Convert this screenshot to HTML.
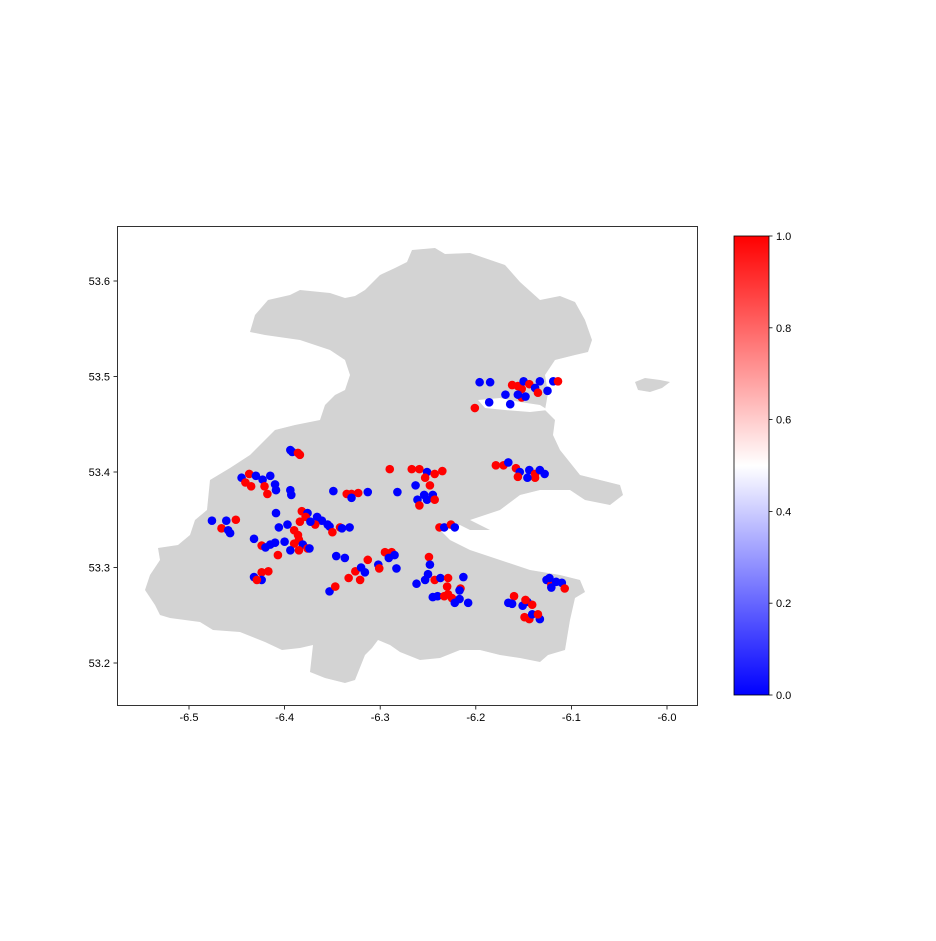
<!DOCTYPE html>
<html><head><meta charset="utf-8"><style>
body{margin:0;background:#fff;}
svg text{font-family:"Liberation Sans","DejaVu Sans",sans-serif;font-size:11px;fill:#000;}
</style></head><body>
<svg id="chart" width="936" height="936" viewBox="0 0 936 936" xmlns="http://www.w3.org/2000/svg">
<defs><linearGradient id="bwr" x1="0" y1="1" x2="0" y2="0">
<stop offset="0" stop-color="#0000ff"/><stop offset="0.5" stop-color="#ffffff"/><stop offset="1" stop-color="#ff0000"/></linearGradient></defs>
<rect x="0" y="0" width="936" height="936" fill="#fff"/>
<g>
<path fill="#d3d3d3" d="M407,262 L412,250 L435,248 L445,254 L470,253 L505,265 L520,282 L540,300 L560,296 L575,302 L585,320 L592,340 L588,352 L575,355 L555,360 L545,375 L548,393 L545,410 L555,420 L553,435 L560,450 L572,465 L580,475 L600,480 L620,485 L623,495 L610,505 L585,500 L570,490 L540,490 L520,495 L500,510 L485,515 L470,520 L490,530 L470,530 L460,525 L440,530 L450,540 L470,550 L500,560 L530,570 L560,575 L580,580 L585,592 L575,598 L570,620 L565,650 L548,655 L540,662 L520,658 L500,655 L480,650 L460,650 L440,658 L420,660 L400,652 L390,645 L378,640 L372,648 L365,655 L355,680 L345,683 L325,678 L310,672 L313,645 L300,648 L282,650 L265,642 L240,632 L213,630 L200,622 L170,618 L160,615 L155,605 L145,590 L150,575 L160,560 L158,548 L178,545 L190,535 L195,520 L207,510 L210,480 L230,468 L250,455 L262,443 L275,430 L295,425 L320,420 L325,405 L335,395 L345,390 L350,375 L345,360 L330,350 L300,340 L265,335 L250,332 L255,315 L268,300 L290,295 L300,290 L330,293 L345,298 L355,296 L365,290 L380,275 L395,268 Z"/>
<path fill="#d3d3d3" d="M635,382 L645,378 L660,380 L670,382 L662,388 L650,392 L638,390 Z"/>
<path fill="#fff" d="M478,400 L500,398 L520,402 L540,405 L548,410 L530,412 L505,410 L485,408 Z"/>
</g>
<rect x="117.5" y="226.5" width="580" height="479" fill="none" stroke="#000" stroke-width="0.8"/>
<g id="xticks"></g>
<g id="yticks"></g>
<g id="points"></g>
<g>
<rect x="734" y="236" width="35" height="459" fill="url(#bwr)" stroke="#000" stroke-width="0.8"/>
<g id="cbticks"></g>
</g>
</svg>
<script>
const xTicks=[-6.5,-6.4,-6.3,-6.2,-6.1,-6.0];
const yTicks=[53.2,53.3,53.4,53.5,53.6];
const cbTicks=[0.0,0.2,0.4,0.6,0.8,1.0];
const lons=[-6.196,-6.185,-6.169,-6.186,-6.164,-6.201,-6.162,-6.156,-6.152,-6.150,-6.144,-6.138,-6.133,-6.135,-6.152,-6.148,-6.125,-6.119,-6.114,-6.156,
-6.179,-6.171,-6.166,-6.158,-6.154,-6.144,-6.138,-6.133,-6.128,-6.138,-6.156,-6.146,
-6.290,-6.267,-6.259,-6.251,-6.243,-6.235,-6.263,-6.253,-6.248,-6.245,-6.251,-6.261,-6.259,-6.243,-6.254,
-6.238,-6.233,-6.226,-6.222,
-6.349,-6.335,-6.330,-6.323,-6.313,-6.330,-6.282,
-6.445,-6.437,-6.430,-6.423,-6.415,-6.410,-6.435,-6.441,-6.421,-6.418,-6.409,-6.394,-6.393,-6.394,-6.392,-6.386,-6.384,
-6.476,-6.466,-6.459,-6.461,-6.451,-6.457,
-6.409,-6.382,-6.376,-6.378,-6.384,-6.397,-6.406,-6.390,-6.386,-6.366,-6.361,-6.355,-6.353,-6.342,-6.340,-6.332,-6.350,-6.368,-6.373,
-6.432,-6.424,-6.415,-6.410,-6.420,-6.400,-6.390,-6.385,-6.381,-6.394,-6.407,-6.385,-6.376,-6.374,
-6.432,-6.424,-6.417,-6.424,-6.429,
-6.346,-6.337,-6.353,-6.347,-6.333,-6.326,-6.320,-6.313,-6.321,-6.316,-6.302,-6.295,-6.288,-6.285,-6.283,-6.291,-6.301,
-6.249,-6.248,-6.250,-6.253,-6.262,-6.243,-6.237,-6.229,-6.230,-6.213,-6.245,-6.240,-6.233,-6.225,-6.229,-6.222,-6.217,-6.208,-6.216,-6.217,
-6.166,-6.160,-6.162,-6.151,-6.146,-6.141,-6.148,-6.149,-6.144,-6.141,-6.133,-6.135,-6.126,-6.121,-6.123,-6.116,-6.110,-6.107,-6.121];
const lats=[53.494,53.494,53.481,53.473,53.471,53.467,53.491,53.490,53.487,53.495,53.492,53.488,53.495,53.483,53.478,53.479,53.485,53.495,53.495,53.481,
53.407,53.407,53.410,53.404,53.400,53.402,53.398,53.402,53.398,53.394,53.395,53.394,
53.403,53.403,53.403,53.400,53.398,53.401,53.386,53.394,53.386,53.376,53.371,53.371,53.365,53.371,53.376,
53.342,53.342,53.345,53.342,
53.380,53.377,53.377,53.378,53.379,53.373,53.379,
53.394,53.398,53.396,53.392,53.396,53.387,53.385,53.389,53.385,53.377,53.381,53.381,53.376,53.423,53.421,53.420,53.418,
53.349,53.341,53.339,53.349,53.350,53.336,
53.357,53.359,53.357,53.353,53.348,53.345,53.342,53.339,53.334,53.353,53.349,53.345,53.343,53.342,53.341,53.342,53.337,53.345,53.348,
53.330,53.323,53.324,53.326,53.321,53.327,53.325,53.329,53.324,53.318,53.313,53.318,53.320,53.320,
53.290,53.295,53.296,53.287,53.287,
53.312,53.310,53.275,53.280,53.289,53.296,53.300,53.308,53.287,53.295,53.303,53.316,53.316,53.313,53.299,53.310,53.299,
53.311,53.303,53.293,53.287,53.283,53.287,53.289,53.289,53.280,53.290,53.269,53.270,53.270,53.268,53.272,53.263,53.267,53.263,53.278,53.276,
53.263,53.270,53.262,53.260,53.264,53.261,53.266,53.248,53.246,53.251,53.246,53.251,53.287,53.282,53.289,53.285,53.284,53.278,53.279];
const vals=[0,0,0,0,0,1,1,1,1,0,1,0,0,1,1,0,0,0,1,0,
1,1,0,1,0,0,1,0,0,1,1,0,
1,1,1,0,1,1,0,1,1,0,0,0,1,1,0,
1,0,1,0,
0,1,1,1,0,0,0,
0,1,0,0,0,0,1,1,1,1,0,0,0,0,0,1,1,
0,1,0,0,1,0,
0,1,0,1,1,0,0,1,1,0,0,0,0,1,0,0,1,1,0,
0,1,0,0,0,0,1,1,0,0,1,1,1,0,
0,1,1,0,1,
0,0,0,1,1,1,0,1,1,0,0,1,1,0,0,0,1,
1,0,0,0,0,1,0,1,1,0,0,0,1,1,1,0,0,0,1,0,
0,1,0,0,0,1,1,1,1,0,0,1,0,1,0,0,0,1,0];
const NS='http://www.w3.org/2000/svg';
const xS=v=>189+(v+6.5)*956;
const yS=v=>663-(v-53.2)*955;
const cbS=v=>695-v*459;
function mk(tag,attrs,parent){const e=document.createElementNS(NS,tag);for(const k in attrs)e.setAttribute(k,attrs[k]);parent.appendChild(e);return e;}
function col(v){let r,g,b;if(v<0.5){r=g=Math.round(510*v);b=255;}else{r=255;g=b=Math.round(510*(1-v));}return `rgb(${r},${g},${b})`;}
const gx=document.getElementById('xticks'),gy=document.getElementById('yticks'),gp=document.getElementById('points'),gc=document.getElementById('cbticks');
xTicks.forEach(t=>{const x=xS(t);
const l=mk('line',{x1:x,x2:x,y1:706,y2:709.5,stroke:'#000','stroke-width':0.8},gx);


const tx=mk('text',{x:x,y:721,'text-anchor':'middle'},gx);tx.textContent=t.toFixed(1);

});
yTicks.forEach(t=>{const y=yS(t);
const l=mk('line',{x1:113.5,x2:117,y1:y,y2:y,stroke:'#000','stroke-width':0.8},gy);


const tx=mk('text',{x:110,y:y+4,'text-anchor':'end'},gy);tx.textContent=t.toFixed(1);

});
cbTicks.forEach(t=>{const y=cbS(t);
const l=mk('line',{x1:769,x2:772.5,y1:y,y2:y,stroke:'#000','stroke-width':0.8},gc);


const tx=mk('text',{x:776,y:y+4},gc);tx.textContent=t.toFixed(1);

});
lons.forEach((lo,i)=>{
const c=mk('circle',{cx:xS(lo),cy:yS(lats[i]),r:4.3,fill:col(vals[i])},gp);

});
</script>
</body></html>
